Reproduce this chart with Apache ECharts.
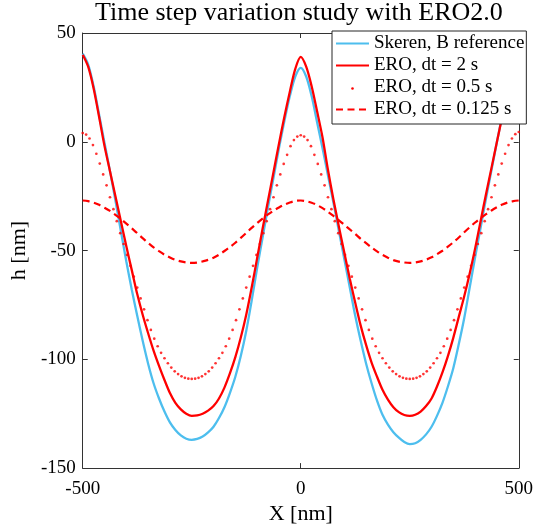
<!DOCTYPE html>
<html>
<head>
<meta charset="utf-8">
<script src="https://cdn.jsdelivr.net/npm/echarts@6/dist/echarts.min.js"></script>
<style>html,body{margin:0;padding:0;background:#fff}#c{width:536px;height:530px}</style>
</head>
<body>
<div id="c"></div>
<script>
// ---- data (x grid: -500 .. 500 every 12.5 nm) ----
const xStart = -500, xStep = 12.5;
const skeren = [40.5,35.5,25.5,12.5,-0.5,-13.5,-27,-41,-55,-68,-80,-91.5,-102,-111,-118,-124,-129,-132.5,-135,-136.5,
  -137,-136.6,-135.5,-133.6,-131,-127,-122,-115.5,-108,-98.5,-87,-73,-58,-44,-30,-16.5,-3,9.5,21,30,
  34,30,21,9,-3,-15.5,-28,-41,-54,-67,-80,-91.5,-102,-111,-119,-125.5,-130,-133.5,-136,-138,
  -139,-138.6,-137,-134.5,-131,-126,-120,-112.5,-104,-93,-81,-67,-53,-39.5,-26,-13,0,12.5,25,35,40];
const ero2 = [40,34.5,24.5,11.5,-2,-13.5,-25,-36.5,-48,-59,-70,-79.5,-88,-96,-103,-109.5,-115.5,-120,-123,-125,
  -126,-125.8,-125,-123.6,-121.5,-118,-113,-106.5,-99,-90,-79.5,-67,-53.5,-40,-27,-14,-1,11.5,23,33.5,
  39,34.5,25.5,14,2,-13,-26.5,-39,-51,-63,-74,-84.5,-93.5,-101.5,-108,-114,-118.5,-122,-124.3,-125.6,
  -126,-125.5,-124,-121.5,-118,-112.5,-106,-98.5,-90,-80.5,-71,-60.5,-49,-36.5,-24,-12,0,12,24,34,40];
const ero0125 = [-27,-27.3,-28,-29,-30.3,-31.8,-33.6,-35.5,-37.6,-39.8,-42,-44.3,-46.5,-48.5,-50.3,-51.9,-53.2,-54.3,-55,-55.5,
  -55.7,-55.5,-55,-54.3,-53.3,-51.9,-50.2,-48.4,-46.4,-44.2,-41.9,-39.6,-37.4,-35.3,-33.4,-31.7,-30.2,-28.9,-27.9,-27.2,
  -27,-27.3,-28,-29.1,-30.5,-32.2,-34.1,-36.1,-38.2,-40.3,-42.4,-44.6,-46.6,-48.6,-50.4,-52,-53.3,-54.4,-55.1,-55.5,
  -55.7,-55.5,-55,-54.2,-53.1,-51.7,-50.1,-48.2,-46.2,-44,-41.6,-39.3,-37.1,-35.1,-33.3,-31.6,-30.1,-28.8,-27.9,-27.3,-27];
// dt = 0.5 s : markers on an evenly spaced grid from -500 to 500
const ero05 = [4,3.3,1.5,-1.5,-5.5,-10,-15,-20,-25.5,-31,-36.5,-42,-47,-52,-57,-62,-67,-72,-77,-82,-86.5,-90.5,-94,-97,-99.5,-101.8,-103.8,-105.5,-106.8,-107.8,-108.5,-108.9,-109,
  -108.9,-108.5,-107.8,-106.8,-105.5,-103.8,-101.8,-99.5,-97,-94,-90.5,-86.5,-82,-77,-72,-67,-62,-57,-52,-47,-42,-36.5,-31,-25.5,-20,-15,-10.2,-6,-2,0.8,2.4,3,
  2.4,0.8,-2,-6,-10.2,-15,-20,-25.5,-31,-36.5,-42,-47,-52,-57,-62,-67,-72,-77,-82,-86.5,-90.5,-94,-97,-99.5,-101.8,-103.8,-105.5,-106.8,-107.8,-108.5,-108.9,-109,
  -108.9,-108.5,-107.8,-106.8,-105.5,-103.8,-101.8,-99.5,-97,-94,-90.5,-86.5,-82,-77,-72,-67,-62,-57,-52,-47,-42,-36.5,-31,-25.5,-20,-15,-10,-5.5,-1.5,1.5,3.5,4.5];
const dotX0 = -500, dotX1 = 500;
const names = ['Skeren, B reference', 'ERO, dt = 2 s', 'ERO, dt = 0.5 s', 'ERO, dt = 0.125 s'];
const titleText = 'Time step variation study with ERO2.0';

// ---- build ----
const pair = (arr) => arr.map((v, i) => [xStart + i * xStep, v]);
const dotStep = (dotX1 - dotX0) / (ero05.length - 1);
const dots = ero05.map((v, i) => [dotX0 + i * dotStep, v]);

const FONT = 'Liberation Serif';
const AX = '#333';
const chart = echarts.init(document.getElementById('c'), null, {renderer: 'canvas'});

const axisCommon = {
  axisLine: {show: true, onZero: false, lineStyle: {color: AX, width: 1}},
  axisTick: {show: true, inside: true, length: 5, lineStyle: {color: AX}},
  splitLine: {show: false},
};

const legendLeft = 332, legendTop = 31, padTop = 3, itemH = 19, gap = 3, padLeft = 3, itemW = 33;

chart.setOption({
  animation: false,
  backgroundColor: '#fff',
  title: {
    text: titleText, left: 95, top: 0, padding: 0,
    textStyle: {fontFamily: FONT, fontSize: 26, fontWeight: 'normal', color: '#000'}
  },
  grid: {left: 81, right: 16, top: 33, bottom: 58, containLabel: false},
  legend: {
    orient: 'vertical', left: legendLeft, top: legendTop,
    padding: [padTop, 2, 5, padLeft],
    itemWidth: itemW, itemHeight: itemH, itemGap: gap,
    borderColor: '#262626', borderWidth: 1, backgroundColor: '#fff',
    selectedMode: false,
    itemStyle: {opacity: 0},
    textStyle: {fontFamily: FONT, fontSize: 19, color: '#000', lineHeight: 19},
    data: [
      {name: names[0]},
      {name: names[1]},
      {name: names[2], icon: 'rect', itemStyle: {opacity: 0, color: 'rgba(0,0,0,0)'}},
      {name: names[3]}
    ]
  },
  graphic: [{
    type: 'circle', z: 100,
    shape: {cx: legendLeft + padLeft + itemW / 2 + 1, cy: legendTop + padTop + 2 * (itemH + gap) + itemH / 2 + 1, r: 1.3},
    style: {fill: '#ff0000'}
  }],
  xAxis: [
    Object.assign({
      type: 'value', min: -500, max: 500, interval: 500, position: 'bottom',
      name: 'X [nm]', nameLocation: 'middle', nameGap: 32,
      nameTextStyle: {fontFamily: FONT, fontSize: 22, color: '#000'},
      axisLabel: {fontFamily: FONT, fontSize: 19, color: '#000', margin: 11}
    }, axisCommon),
    Object.assign({
      type: 'value', min: -500, max: 500, interval: 500, position: 'top',
      axisLabel: {show: false}
    }, axisCommon)
  ],
  yAxis: [
    Object.assign({
      type: 'value', min: -150, max: 50, interval: 50, position: 'left',
      name: 'h [nm]', nameLocation: 'middle', nameGap: 51, nameRotate: 90,
      nameTextStyle: {fontFamily: FONT, fontSize: 22, color: '#000'},
      axisLabel: {fontFamily: FONT, fontSize: 19, color: '#000', margin: 7}
    }, axisCommon),
    Object.assign({
      type: 'value', min: -150, max: 50, interval: 50, position: 'right',
      axisLabel: {show: false}
    }, axisCommon)
  ],
  series: [
    {name: names[0], type: 'line', data: pair(skeren), smooth: 0.3, showSymbol: false, symbol: 'none',
     lineStyle: {color: '#4DBEEE', width: 2.3}, itemStyle: {color: '#4DBEEE'}, z: 2},
    {name: names[1], type: 'line', data: pair(ero2), smooth: 0.3, showSymbol: false, symbol: 'none',
     lineStyle: {color: '#FF0000', width: 2.3}, itemStyle: {color: '#FF0000'}, z: 3},
    {name: names[2], type: 'scatter', data: dots, symbol: 'circle', symbolSize: 2.7,
     itemStyle: {color: '#FF0000'}, z: 4},
    {name: names[3], type: 'line', data: pair(ero0125), smooth: 0.3, showSymbol: false, symbol: 'none',
     lineStyle: {color: '#FF0000', width: 2.2, type: [7, 4.5]}, itemStyle: {color: '#FF0000'}, z: 5}
  ]
});
</script>
</body>
</html>
